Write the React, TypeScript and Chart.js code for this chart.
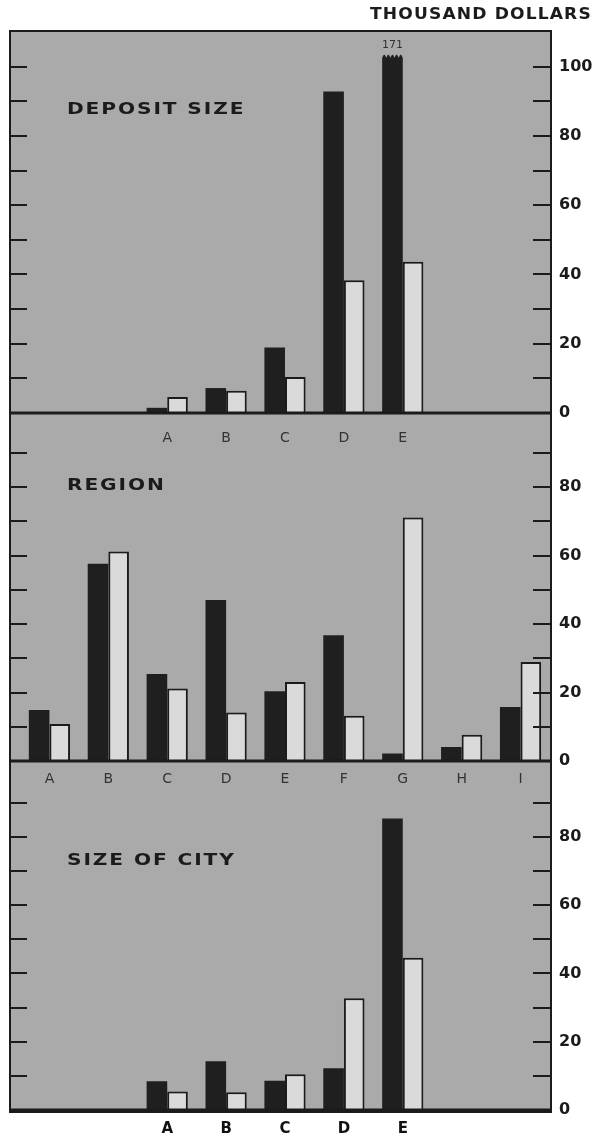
import React, { useEffect, useRef } from 'react';
import { Chart, registerables } from 'chart.js';

Chart.register(...registerables);

// ---------- data ----------
const unitLabel = 'THOUSAND DOLLARS';

const depositTitle = 'DEPOSIT SIZE';
const depositCategories = ['', '', 'A', 'B', 'C', 'D', 'E', '', ''];
const depositDark = [null, null, 1.5, 7.2, 18.9, 92.8, 171, null, null];
const depositLight = [null, null, 4.6, 6.4, 10.4, 38.3, 43.7, null, null];
const depositYTicks = [0, 20, 40, 60, 80, 100];
const depositBreakAt = 103.4;

const regionTitle = 'REGION';
const regionCategories = ['A', 'B', 'C', 'D', 'E', 'F', 'G', 'H', 'I'];
const regionDark = [14.9, 57.6, 25.4, 47.0, 20.4, 36.7, 2.2, 4.1, 15.8];
const regionLight = [10.8, 61.2, 21.2, 14.2, 23.1, 13.2, 71.1, 7.7, 28.9];
const regionYTicks = [0, 20, 40, 60, 80];

const cityTitle = 'SIZE OF CITY';
const cityCategories = ['', '', 'A', 'B', 'C', 'D', 'E', '', ''];
const cityDark = [null, null, 8.4, 14.3, 8.6, 12.2, 85.4, null, null];
const cityLight = [null, null, 5.4, 5.2, 10.5, 32.7, 44.6, null, null];
const cityYTicks = [0, 20, 40, 60, 80];

const minorTicksDeposit = [10, 20, 30, 40, 50, 60, 70, 80, 90, 100];
const minorTicksOther = [10, 20, 30, 40, 50, 60, 70, 80, 90];

// ---------- style ----------
const INK = '#1b1b1b';
const DARK = '#1f1f1f';
const LIGHT = '#dadada';
const BG = '#aaaaaa';
const FRAME_L = 11;
const FRAME_R = 550;
const FONT = '"DejaVu Sans", sans-serif';

function wideText(ctx: any, text: string, x: number, y: number, font: string, spacing: number, stretch: number) {
  ctx.save();
  ctx.font = font;
  ctx.letterSpacing = `${spacing}px`;
  ctx.textAlign = 'left';
  ctx.textBaseline = 'middle';
  ctx.translate(x, y);
  ctx.scale(stretch, 1);
  ctx.fillText(text, 0, 0);
  ctx.restore();
}

const panelPlugin = {
  id: 'panelDecor',
  afterDatasetsDraw(chart: any, _args: any, opts: any) {
    const { ctx, chartArea, scales } = chart;
    const y = scales.y;
    ctx.save();
    ctx.strokeStyle = INK;
    ctx.lineWidth = 2;
    for (const v of opts.minorTicks || []) {
      const py = Math.round(y.getPixelForValue(v));
      ctx.beginPath();
      ctx.moveTo(FRAME_L, py);
      ctx.lineTo(FRAME_L + 16, py);
      ctx.moveTo(FRAME_R - 17, py);
      ctx.lineTo(FRAME_R, py);
      ctx.stroke();
    }
    const y0 = y.getPixelForValue(0);
    ctx.lineWidth = 3;
    ctx.beginPath();
    ctx.moveTo(FRAME_L - 1, y0);
    ctx.lineTo(FRAME_R + 1, y0);
    ctx.stroke();

    // panel title
    ctx.fillStyle = INK;
    wideText(ctx, opts.title, 67, chartArea.top + opts.titleOffset, `bold 16px ${FONT}`, 1.5, 1.26);

    if (opts.unitLabel) {
      wideText(ctx, opts.unitLabel, 370, 15, `bold 15px ${FONT}`, 1, 1.14);
    }

    // broken bar
    if (opts.breakAt != null && opts.raw) {
      const meta = chart.getDatasetMeta(0);
      opts.raw.forEach((v: number | null, i: number) => {
        if (v == null || v <= opts.breakAt) return;
        const el: any = meta.data[i];
        const left = el.x - el.width / 2;
        const right = el.x + el.width / 2;
        const top = el.y;
        ctx.fillStyle = BG;
        ctx.beginPath();
        ctx.moveTo(left - 1, top - 1);
        const n = 5;
        const step = (right - left) / n;
        for (let k = 0; k <= n; k++) {
          const px = left + k * step;
          ctx.lineTo(px, top + 3);
          if (k < n) ctx.lineTo(px + step / 2, top - 1);
        }
        ctx.lineTo(right + 1, top - 1);
        ctx.closePath();
        ctx.fill();
        ctx.fillStyle = '#333';
        ctx.font = `11px ${FONT}`;
        ctx.textAlign = 'center';
        ctx.textBaseline = 'middle';
        ctx.fillText(String(v), el.x, top - 10);
      });
    }
    ctx.restore();
  },
};

type PanelProps = {
  top: number;
  height: number;
  padTop: number;
  xAxisHeight: number;
  yMax: number;
  yTicks: number[];
  minorTicks: number[];
  labels: string[];
  dark: (number | null)[];
  light: (number | null)[];
  title: string;
  titleOffset: number;
  labelPadding: number;
  labelFont: any;
  labelColor: string;
  breakAt?: number;
  unitLabel?: string;
};

function Panel(p: PanelProps) {
  const ref = useRef<HTMLCanvasElement | null>(null);
  useEffect(() => {
    if (!ref.current) return;
    const cap = p.breakAt ?? Infinity;
    const chart = new Chart(ref.current, {
      type: 'bar',
      data: {
        labels: p.labels,
        datasets: [
          {
            data: p.dark.map((v) => (v == null ? null : Math.min(v, cap))),
            backgroundColor: DARK,
            borderColor: DARK,
            borderWidth: 0,
            categoryPercentage: 0.7,
            barPercentage: 1,
          },
          {
            data: p.light,
            backgroundColor: LIGHT,
            borderColor: INK,
            borderWidth: 2,
            categoryPercentage: 0.7,
            barPercentage: 1,
          },
        ],
      },
      options: {
        animation: false,
        responsive: false,
        maintainAspectRatio: false,
        layout: { padding: { top: p.padTop, left: 20, right: 0, bottom: 0 } },
        plugins: {
          legend: { display: false },
          tooltip: { enabled: false },
          panelDecor: {
            minorTicks: p.minorTicks,
            title: p.title,
            titleOffset: p.titleOffset,
            breakAt: p.breakAt,
            raw: p.dark,
            unitLabel: p.unitLabel,
          },
        } as any,
        scales: {
          x: {
            grid: { display: false, drawTicks: false },
            border: { display: false },
            ticks: {
              font: p.labelFont,
              color: p.labelColor,
              padding: p.labelPadding,
              maxRotation: 0,
              autoSkip: false,
            },
            afterFit: (s: any) => {
              s.height = p.xAxisHeight;
            },
          },
          y: {
            position: 'right',
            min: 0,
            max: p.yMax,
            grid: { display: false, drawTicks: false },
            border: { display: false },
            afterBuildTicks: (s: any) => {
              s.ticks = p.yTicks.map((v) => ({ value: v }));
            },
            ticks: {
              font: { family: FONT, size: 16, weight: 'bold' },
              color: INK,
              padding: 9,
            },
            afterFit: (s: any) => {
              s.width = 44;
            },
          },
        },
      },
      plugins: [panelPlugin],
    } as any);
    return () => chart.destroy();
  }, []);
  return (
    <canvas
      ref={ref}
      width={594}
      height={p.height}
      style={{ position: 'absolute', left: 0, top: p.top, width: 594, height: p.height, display: 'block' }}
    />
  );
}

export default function App() {
  const thinFont = { family: FONT, size: 14 };
  const boldFont = { family: FONT, size: 15, weight: 'bold' };
  return (
    <div style={{ position: 'absolute', left: 0, top: 0, width: 594, height: 1138, background: '#fff', overflow: 'hidden' }}>
      <div
        style={{
          position: 'absolute',
          left: FRAME_L - 2,
          top: 30,
          width: FRAME_R - FRAME_L + 4,
          height: 1083,
          boxSizing: 'border-box',
          border: `2px solid ${INK}`,
          background: BG,
        }}
      />
      <Panel
        top={0}
        height={460}
        padTop={32}
        xAxisHeight={47}
        yMax={110}
        yTicks={depositYTicks}
        minorTicks={minorTicksDeposit}
        labels={depositCategories}
        dark={depositDark}
        light={depositLight}
        title={depositTitle}
        titleOffset={78}
        labelPadding={17}
        labelFont={thinFont}
        labelColor="#333"
        breakAt={depositBreakAt}
        unitLabel={unitLabel}
      />
      <Panel
        top={400}
        height={401}
        padTop={13}
        xAxisHeight={40}
        yMax={100}
        yTicks={regionYTicks}
        minorTicks={minorTicksOther}
        labels={regionCategories}
        dark={regionDark}
        light={regionLight}
        title={regionTitle}
        titleOffset={67}
        labelPadding={10}
        labelFont={thinFont}
        labelColor="#333"
      />
      <Panel
        top={750}
        height={388}
        padTop={10}
        xAxisHeight={28}
        yMax={100}
        yTicks={cityYTicks}
        minorTicks={minorTicksOther}
        labels={cityCategories}
        dark={cityDark}
        light={cityLight}
        title={cityTitle}
        titleOffset={92}
        labelPadding={10}
        labelFont={boldFont}
        labelColor="#111"
      />
    </div>
  );
}
